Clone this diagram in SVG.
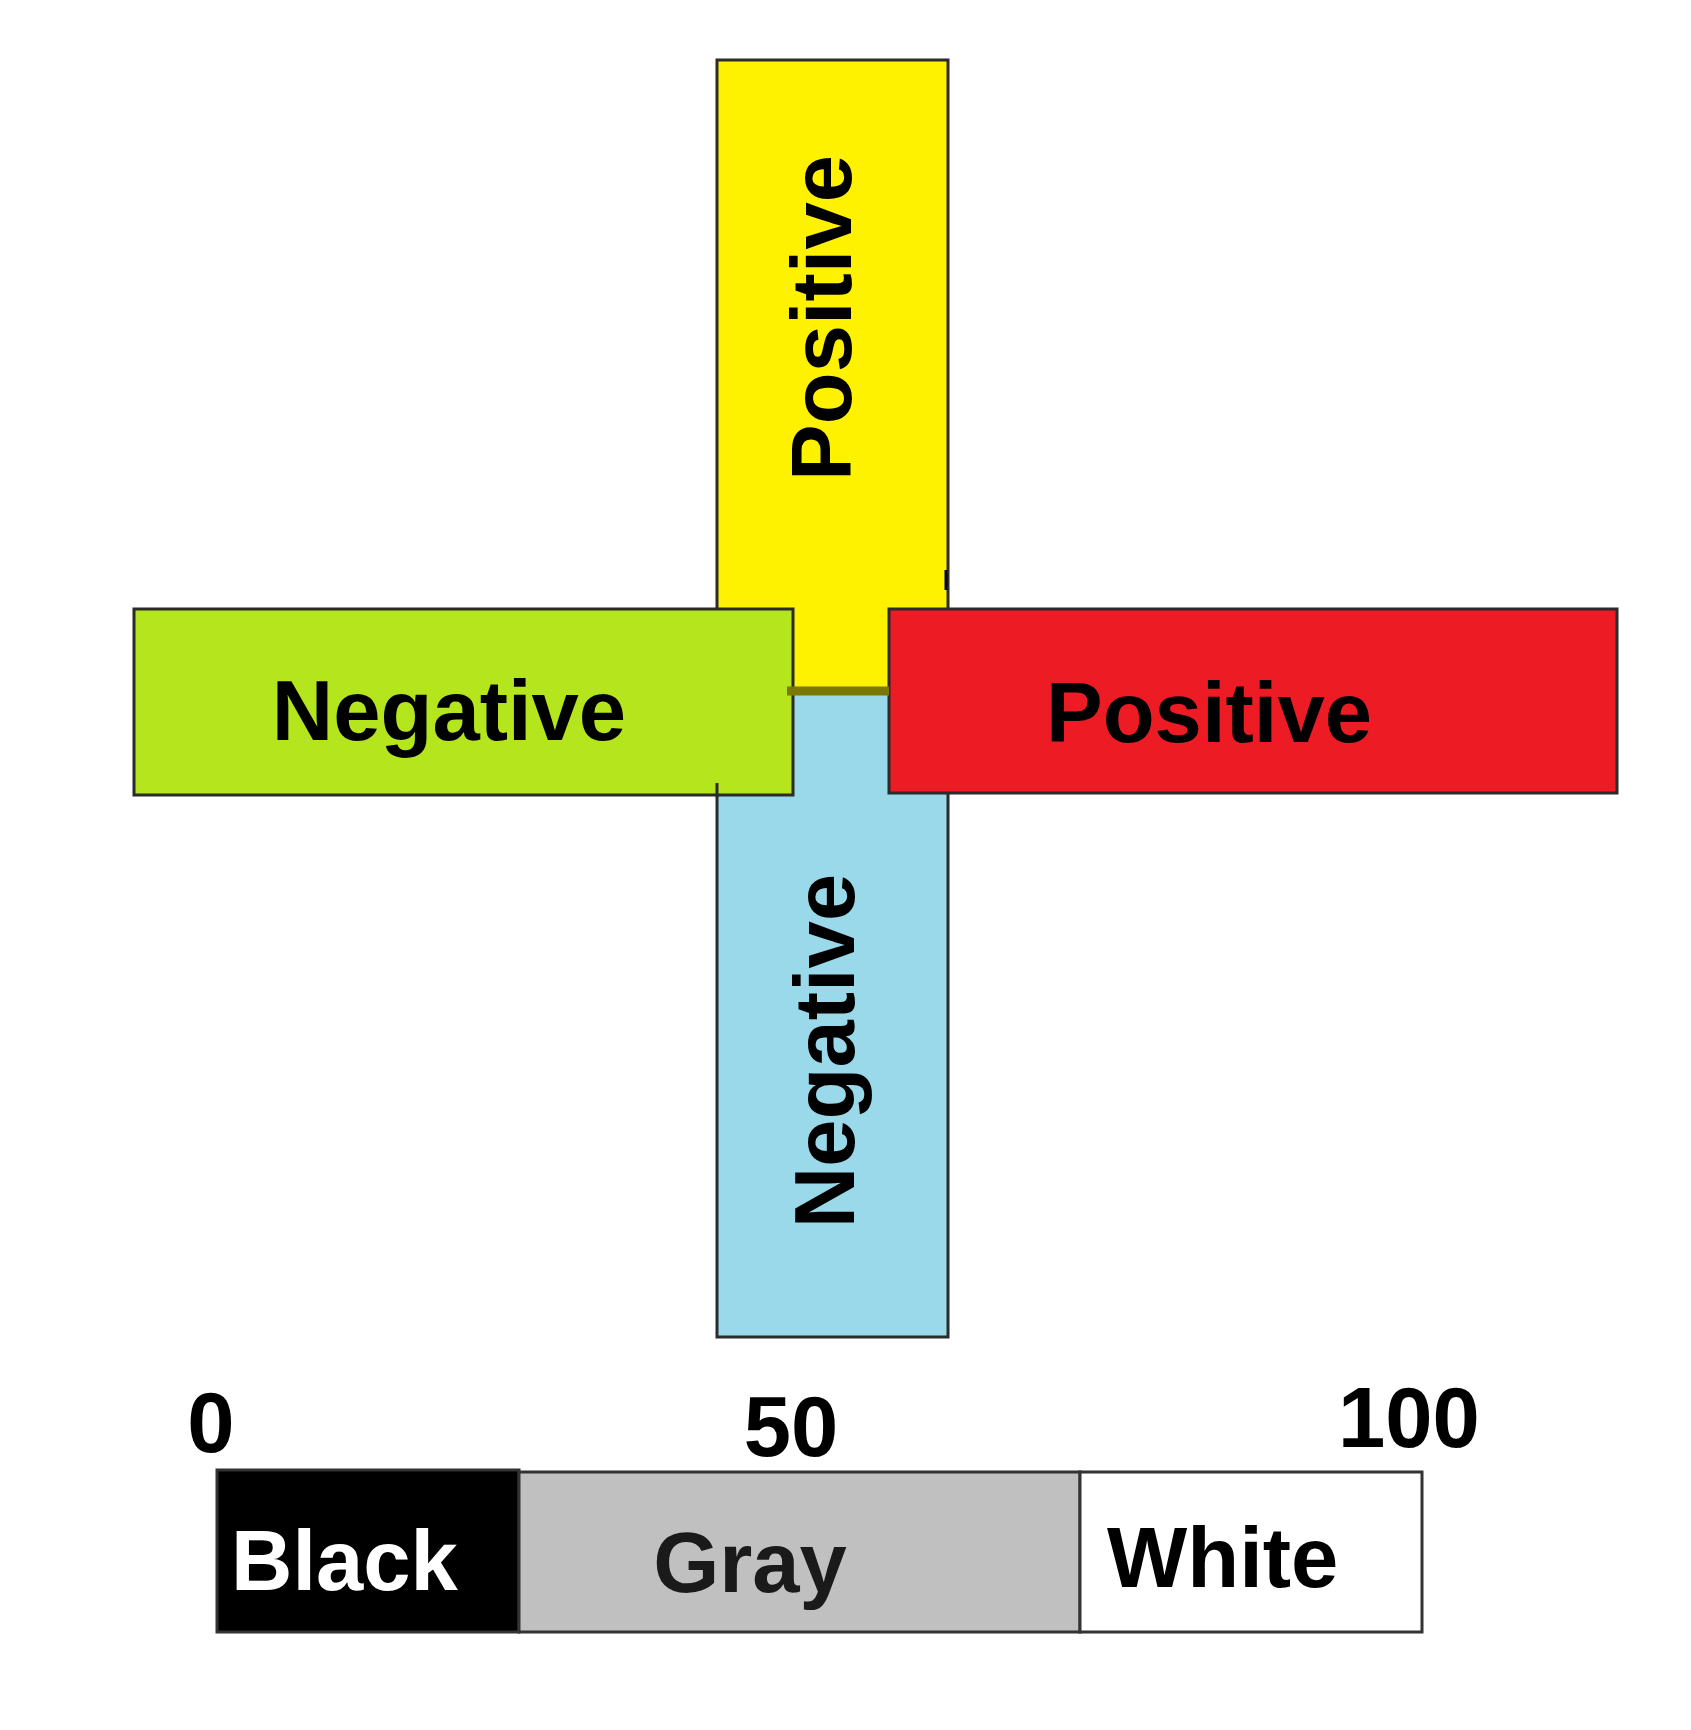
<svg xmlns="http://www.w3.org/2000/svg" width="1691" height="1730" viewBox="0 0 1691 1730">
<style>
.box{stroke:#2b2b2b;stroke-width:3}
.lbl{font-family:"Liberation Sans",Arial,sans-serif;font-weight:bold;font-size:85px;fill:#000}
</style>
<rect width="1691" height="1730" fill="#fff"/>
<g id="pos-vertical">
<rect class="box" x="717" y="60" width="231" height="632" fill="#fff200"/>
<text class="lbl" transform="translate(851,318) rotate(-90)" text-anchor="middle">Positive</text>
</g>
<g id="neg-vertical">
<rect class="box" x="717" y="692" width="231" height="645" fill="#99d9ea"/>
<text class="lbl" transform="translate(854,1051) rotate(-90)" text-anchor="middle">Negative</text>
</g>
<g id="neg-horizontal">
<rect class="box" x="134" y="609" width="659" height="186" fill="#b5e61d"/>
<text class="lbl" x="449" y="740" text-anchor="middle">Negative</text>
</g>
<g id="pos-horizontal">
<rect class="box" x="889" y="609" width="728" height="184" fill="#ed1c24"/>
<text class="lbl" x="1209" y="742" text-anchor="middle">Positive</text>
</g>
<g id="connectors">
<line x1="787" y1="691" x2="889" y2="691" stroke="#7a7800" stroke-width="9"/>
<line x1="717" y1="783" x2="717" y2="797" stroke="#2b2b2b" stroke-width="3"/>
<line x1="946" y1="570" x2="946" y2="590" stroke="#000" stroke-width="3"/>
</g>
<g id="scale">
<rect x="217" y="1470" width="302" height="162" fill="#000" stroke="#333" stroke-width="3"/>
<rect x="519" y="1472" width="561" height="160" fill="#c0c0c0" stroke="#333" stroke-width="3"/>
<rect x="1080" y="1472" width="342" height="160" fill="#fff" stroke="#333" stroke-width="3"/>
<text class="lbl" x="231" y="1590" style="fill:#fff">Black</text>
<text class="lbl" x="750" y="1592" text-anchor="middle" style="fill:#1a1a1a">Gray</text>
<text class="lbl" x="1107" y="1587">White</text>
<text class="lbl" x="211" y="1452" text-anchor="middle">0</text>
<text class="lbl" x="791" y="1456" text-anchor="middle">50</text>
<text class="lbl" x="1409" y="1447" text-anchor="middle">100</text>
</g>
</svg>
